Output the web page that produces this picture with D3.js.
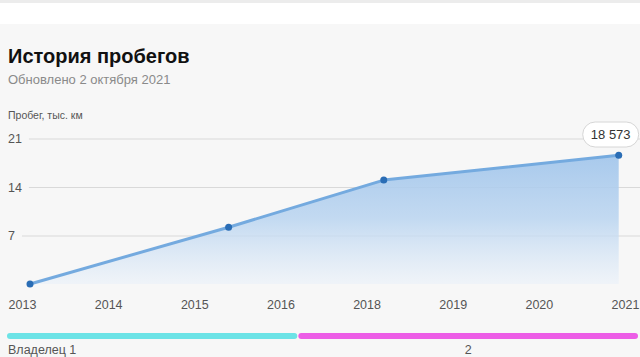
<!DOCTYPE html>
<html><head><meta charset="utf-8">
<script src="https://cdn.jsdelivr.net/npm/d3@7"></script>
<style>
html,body{margin:0;padding:0;background:#f7f7f7;}
svg{display:block;font-family:"Liberation Sans",Arial,sans-serif;}
</style></head>
<body><svg id="c" width="640" height="357"></svg>
<script>
// ---- data ----
const title = "История пробегов";
const subtitle = "Обновлено 2 октября 2021";
const yAxisTitle = "Пробег, тыс. км";
const pointDates = ["2013-01-01", "2015-12-15", "2018-04-05", "2021-10-01"];
const mileage = [0, 8.2, 15.0, 18.573];
const yTicks = [7, 14, 21];
const xTickLabels = ["2013", "2014", "2015", "2016", "2018", "2019", "2020", "2021"];
const owners = ["Владелец 1", "2"];
const ownerStarts = ["2013-01-01", "2017-01-15"];
const ownerEnd = "2021-10-01";
const ownerColors = ["#6ce3e6", "#ec5de6"];
const lastLabel = "18 573";

const parse = d3.timeParse("%Y-%m-%d");
const svg = d3.select("#c");

// background bands
svg.append("rect").attr("x",0).attr("y",0).attr("width",640).attr("height",357).attr("fill","#f7f7f7");
svg.append("rect").attr("x",0).attr("y",0).attr("width",640).attr("height",24).attr("fill","#ffffff");
svg.append("rect").attr("x",0).attr("y",0).attr("width",640).attr("height",3).attr("fill","#ececec");

// titles
svg.append("text").attr("x",8).attr("y",63).attr("font-size",20).attr("font-weight","bold").attr("fill","#111").text(title);
svg.append("text").attr("x",8).attr("y",84).attr("font-size",13).attr("fill","#8a8a8a").text(subtitle);
svg.append("text").attr("x",8).attr("y",119).attr("font-size",10.5).attr("fill","#555").text(yAxisTitle);

// scales
const x = d3.scaleTime().domain([parse(pointDates[0]), parse(pointDates[pointDates.length-1])]).range([30, 618.7]);
const y = d3.scaleLinear().domain([0, 21]).range([284, 138.5]);
const xl = d3.scalePoint().domain(xTickLabels).range([22, 625]);
const xo = d3.scaleTime().domain([parse(ownerStarts[0]), parse(ownerEnd)]).range([7, 638]);

// gridlines + y labels
const yAxis = d3.axisLeft(y).tickValues(yTicks).tickSize(0).tickPadding(0);
const gy = svg.append("g").attr("transform","translate(8,0)").call(yAxis);
gy.select(".domain").remove();
gy.selectAll("text").attr("text-anchor","start").attr("x",0).attr("font-size",12.5)
  .attr("font-family","Liberation Sans, Arial, sans-serif").attr("fill","#555");
gy.selectAll(".tick").each(function(d){
  const t = d3.select(this);
  const w = this.querySelector("text").getComputedTextLength();
  t.append("line").attr("x1", w + 7).attr("x2", 640).attr("stroke","#d9d9d9").attr("stroke-width",1);
});

// area
const data = pointDates.map((d,i)=>({date: parse(d), v: mileage[i]}));
const defs = svg.append("defs");
const grad = defs.append("linearGradient").attr("id","ag").attr("gradientUnits","userSpaceOnUse")
  .attr("x1",0).attr("x2",0).attr("y1",y(21)).attr("y2",y(0));
grad.append("stop").attr("offset",0).attr("stop-color","#9cc2ea").attr("stop-opacity",0.95);
grad.append("stop").attr("offset",0.55).attr("stop-color","#b9d4f0").attr("stop-opacity",0.85);
grad.append("stop").attr("offset",1).attr("stop-color","#eaf1f9").attr("stop-opacity",0.6);

svg.append("path").datum(data)
  .attr("d", d3.area().x(d=>x(d.date)).y0(y(0)).y1(d=>y(d.v)))
  .attr("fill","url(#ag)");
svg.append("path").datum(data)
  .attr("d", d3.line().x(d=>x(d.date)).y(d=>y(d.v)))
  .attr("fill","none").attr("stroke","#74aadf").attr("stroke-width",3).attr("stroke-linejoin","round");
svg.selectAll("circle.pt").data(data).enter().append("circle").attr("class","pt")
  .attr("cx",d=>x(d.date)).attr("cy",d=>y(d.v)).attr("r",3.5).attr("fill","#2a6db5");

// x labels
const xAxis = d3.axisBottom(xl).tickSize(0).tickPadding(0);
const gx = svg.append("g").attr("transform","translate(0,300)").call(xAxis);
gx.select(".domain").remove();
gx.selectAll("text").attr("font-size",12.5).attr("font-family","Liberation Sans, Arial, sans-serif")
  .attr("fill","#555").attr("dy","0.71em").attr("y",0);

// last value bubble
const last = data[data.length-1];
const bx = x(last.date) - 36, by = 122;
svg.append("rect").attr("x",bx).attr("y",by).attr("width",56).attr("height",25).attr("rx",12.5)
  .attr("fill","#ffffff").attr("stroke","#d6d6d6").attr("stroke-width",1);
svg.append("text").attr("x",bx+28).attr("y",by+17).attr("text-anchor","middle").attr("font-size",13)
  .attr("fill","#333").text(lastLabel);

// owner bars
const ownerData = owners.map((o,i)=>({name:o, s: parse(ownerStarts[i]), e: parse(i+1<owners.length ? ownerStarts[i+1] : ownerEnd), c: ownerColors[i]}));
svg.selectAll("line.own").data(ownerData).enter().append("line").attr("class","own")
  .attr("x1",d=>xo(d.s)+3).attr("x2",(d,i)=>xo(d.e)-(i+1<owners.length?4:3))
  .attr("y1",336).attr("y2",336).attr("stroke",d=>d.c).attr("stroke-width",6).attr("stroke-linecap","round");
svg.selectAll("text.own").data(ownerData).enter().append("text").attr("class","own")
  .attr("x",(d,i)=> i===0 ? xo(d.s)+1 : (xo(d.s)+xo(d.e))/2)
  .attr("text-anchor",(d,i)=> i===0 ? "start" : "middle")
  .attr("y",354).attr("font-size",12.5).attr("fill","#555").text(d=>d.name);
</script></body></html>
